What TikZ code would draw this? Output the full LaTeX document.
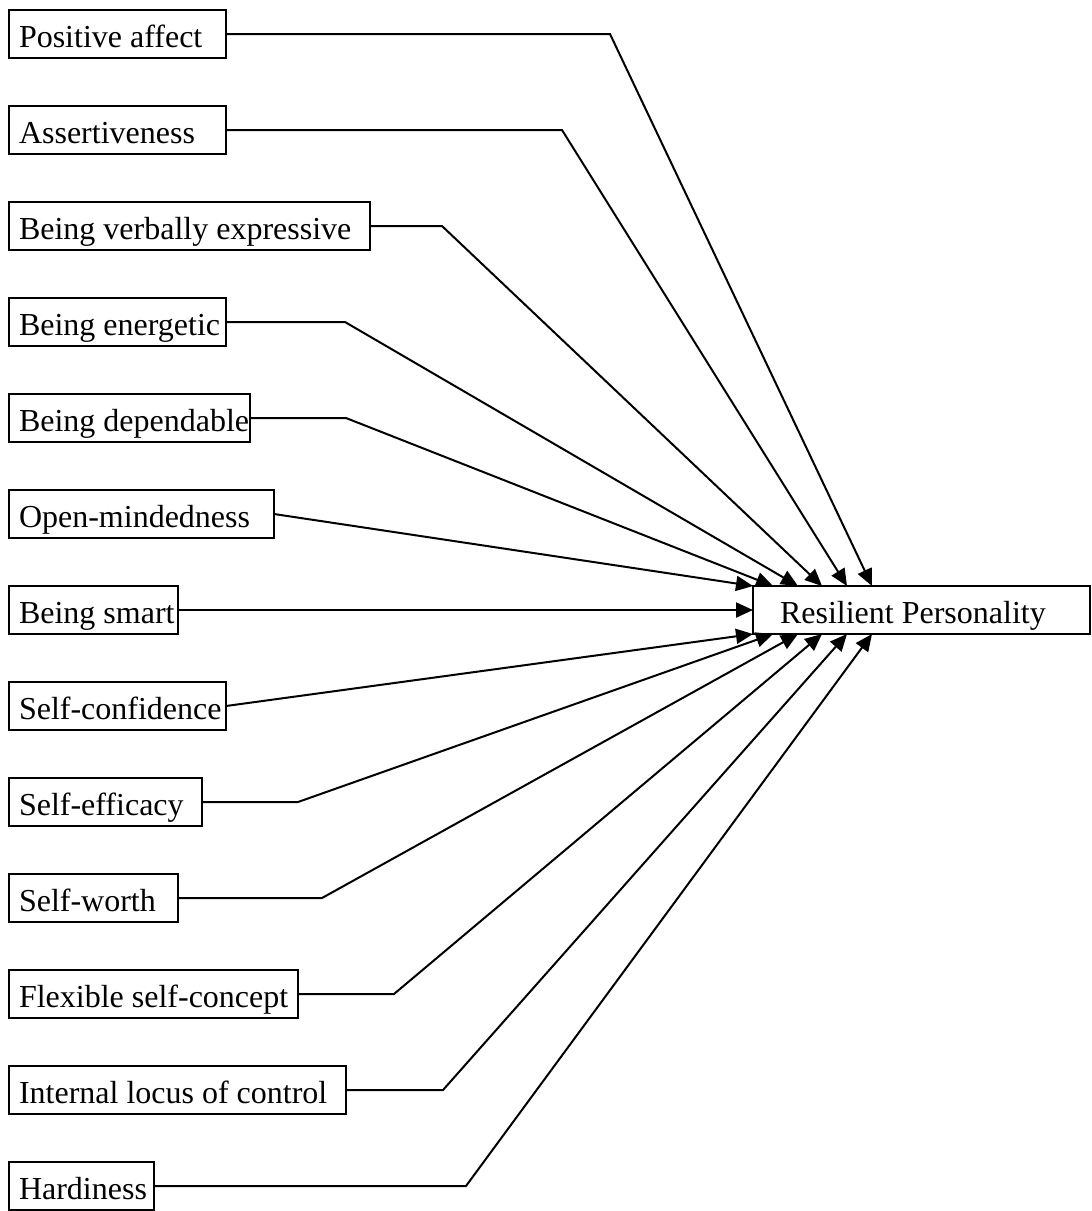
\documentclass[tikz,border=0pt]{standalone}
\usepackage{fontspec}
\setmainfont{Liberation Serif}
\usetikzlibrary{arrows.meta,calc}
\newcommand{\boxtext}[2]{\makebox[#1][l]{#2}}
\begin{document}
\begin{tikzpicture}[x=0.5pt,y=-0.5pt,
  factor/.style={draw,line width=1.3pt,anchor=north west,outer sep=0pt,inner xsep=5pt,inner ysep=0pt,
    text height=18.5pt,text depth=5.5pt,font=\fontsize{16pt}{19pt}\selectfont},
  conn/.style={line width=1pt,-{Triangle[length=8.5pt,width=7.5pt]}}]
\useasboundingbox (0,0) rectangle (1092,1211);
% factor boxes
\node[factor] (b0)  at (9,10)   {\boxtext{98.5pt}{Positive affect}};
\node[factor] (b1)  at (9,106)  {\boxtext{98.5pt}{Assertiveness}};
\node[factor] (b2)  at (9,202)  {\boxtext{170.5pt}{Being verbally expressive}};
\node[factor] (b3)  at (9,298)  {\boxtext{98.5pt}{Being energetic}};
\node[factor] (b4)  at (9,394)  {\boxtext{110.5pt}{Being dependable}};
\node[factor] (b5)  at (9,490)  {\boxtext{122.5pt}{Open-mindedness}};
\node[factor] (b6)  at (9,586)  {\boxtext{74.5pt}{Being smart}};
\node[factor] (b7)  at (9,682)  {\boxtext{98.5pt}{Self-confidence}};
\node[factor] (b8)  at (9,778)  {\boxtext{86.5pt}{Self-efficacy}};
\node[factor] (b9)  at (9,874)  {\boxtext{74.5pt}{Self-worth}};
\node[factor] (b10) at (9,970)  {\boxtext{134.5pt}{Flexible self-concept}};
\node[factor] (b11) at (9,1066) {\boxtext{158.5pt}{Internal locus of control}};
\node[factor] (b12) at (9,1162) {\boxtext{62.5pt}{Hardiness}};
% outcome
\node[factor] (res) at (753,586) {\boxtext{158.5pt}{\hspace{8.5pt}Resilient Personality}};
% connectors
\draw[conn] (b0.east)  -- (610,34)   -- ([xshift=59.5pt]res.north west);
\draw[conn] (b1.east)  -- (562,130)  -- ([xshift=47pt]res.north west);
\draw[conn] (b2.east)  -- (442,226)  -- ([xshift=34.5pt]res.north west);
\draw[conn] (b3.east)  -- (345,322)  -- ([xshift=22.5pt]res.north west);
\draw[conn] (b4.east)  -- (346,418)  -- ([xshift=10pt]res.north west);
\draw[conn] (b5.east)  -- (res.north west);
\draw[conn] (b6.east)  -- (res.west);
\draw[conn] (b7.east)  -- (res.south west);
\draw[conn] (b8.east)  -- (298,802)  -- ([xshift=10pt]res.south west);
\draw[conn] (b9.east)  -- (322,898)  -- ([xshift=22.5pt]res.south west);
\draw[conn] (b10.east) -- (394,994)  -- ([xshift=34.5pt]res.south west);
\draw[conn] (b11.east) -- (443,1090) -- ([xshift=47pt]res.south west);
\draw[conn] (b12.east) -- (466,1186) -- ([xshift=59.5pt]res.south west);
\end{tikzpicture}
\end{document}
